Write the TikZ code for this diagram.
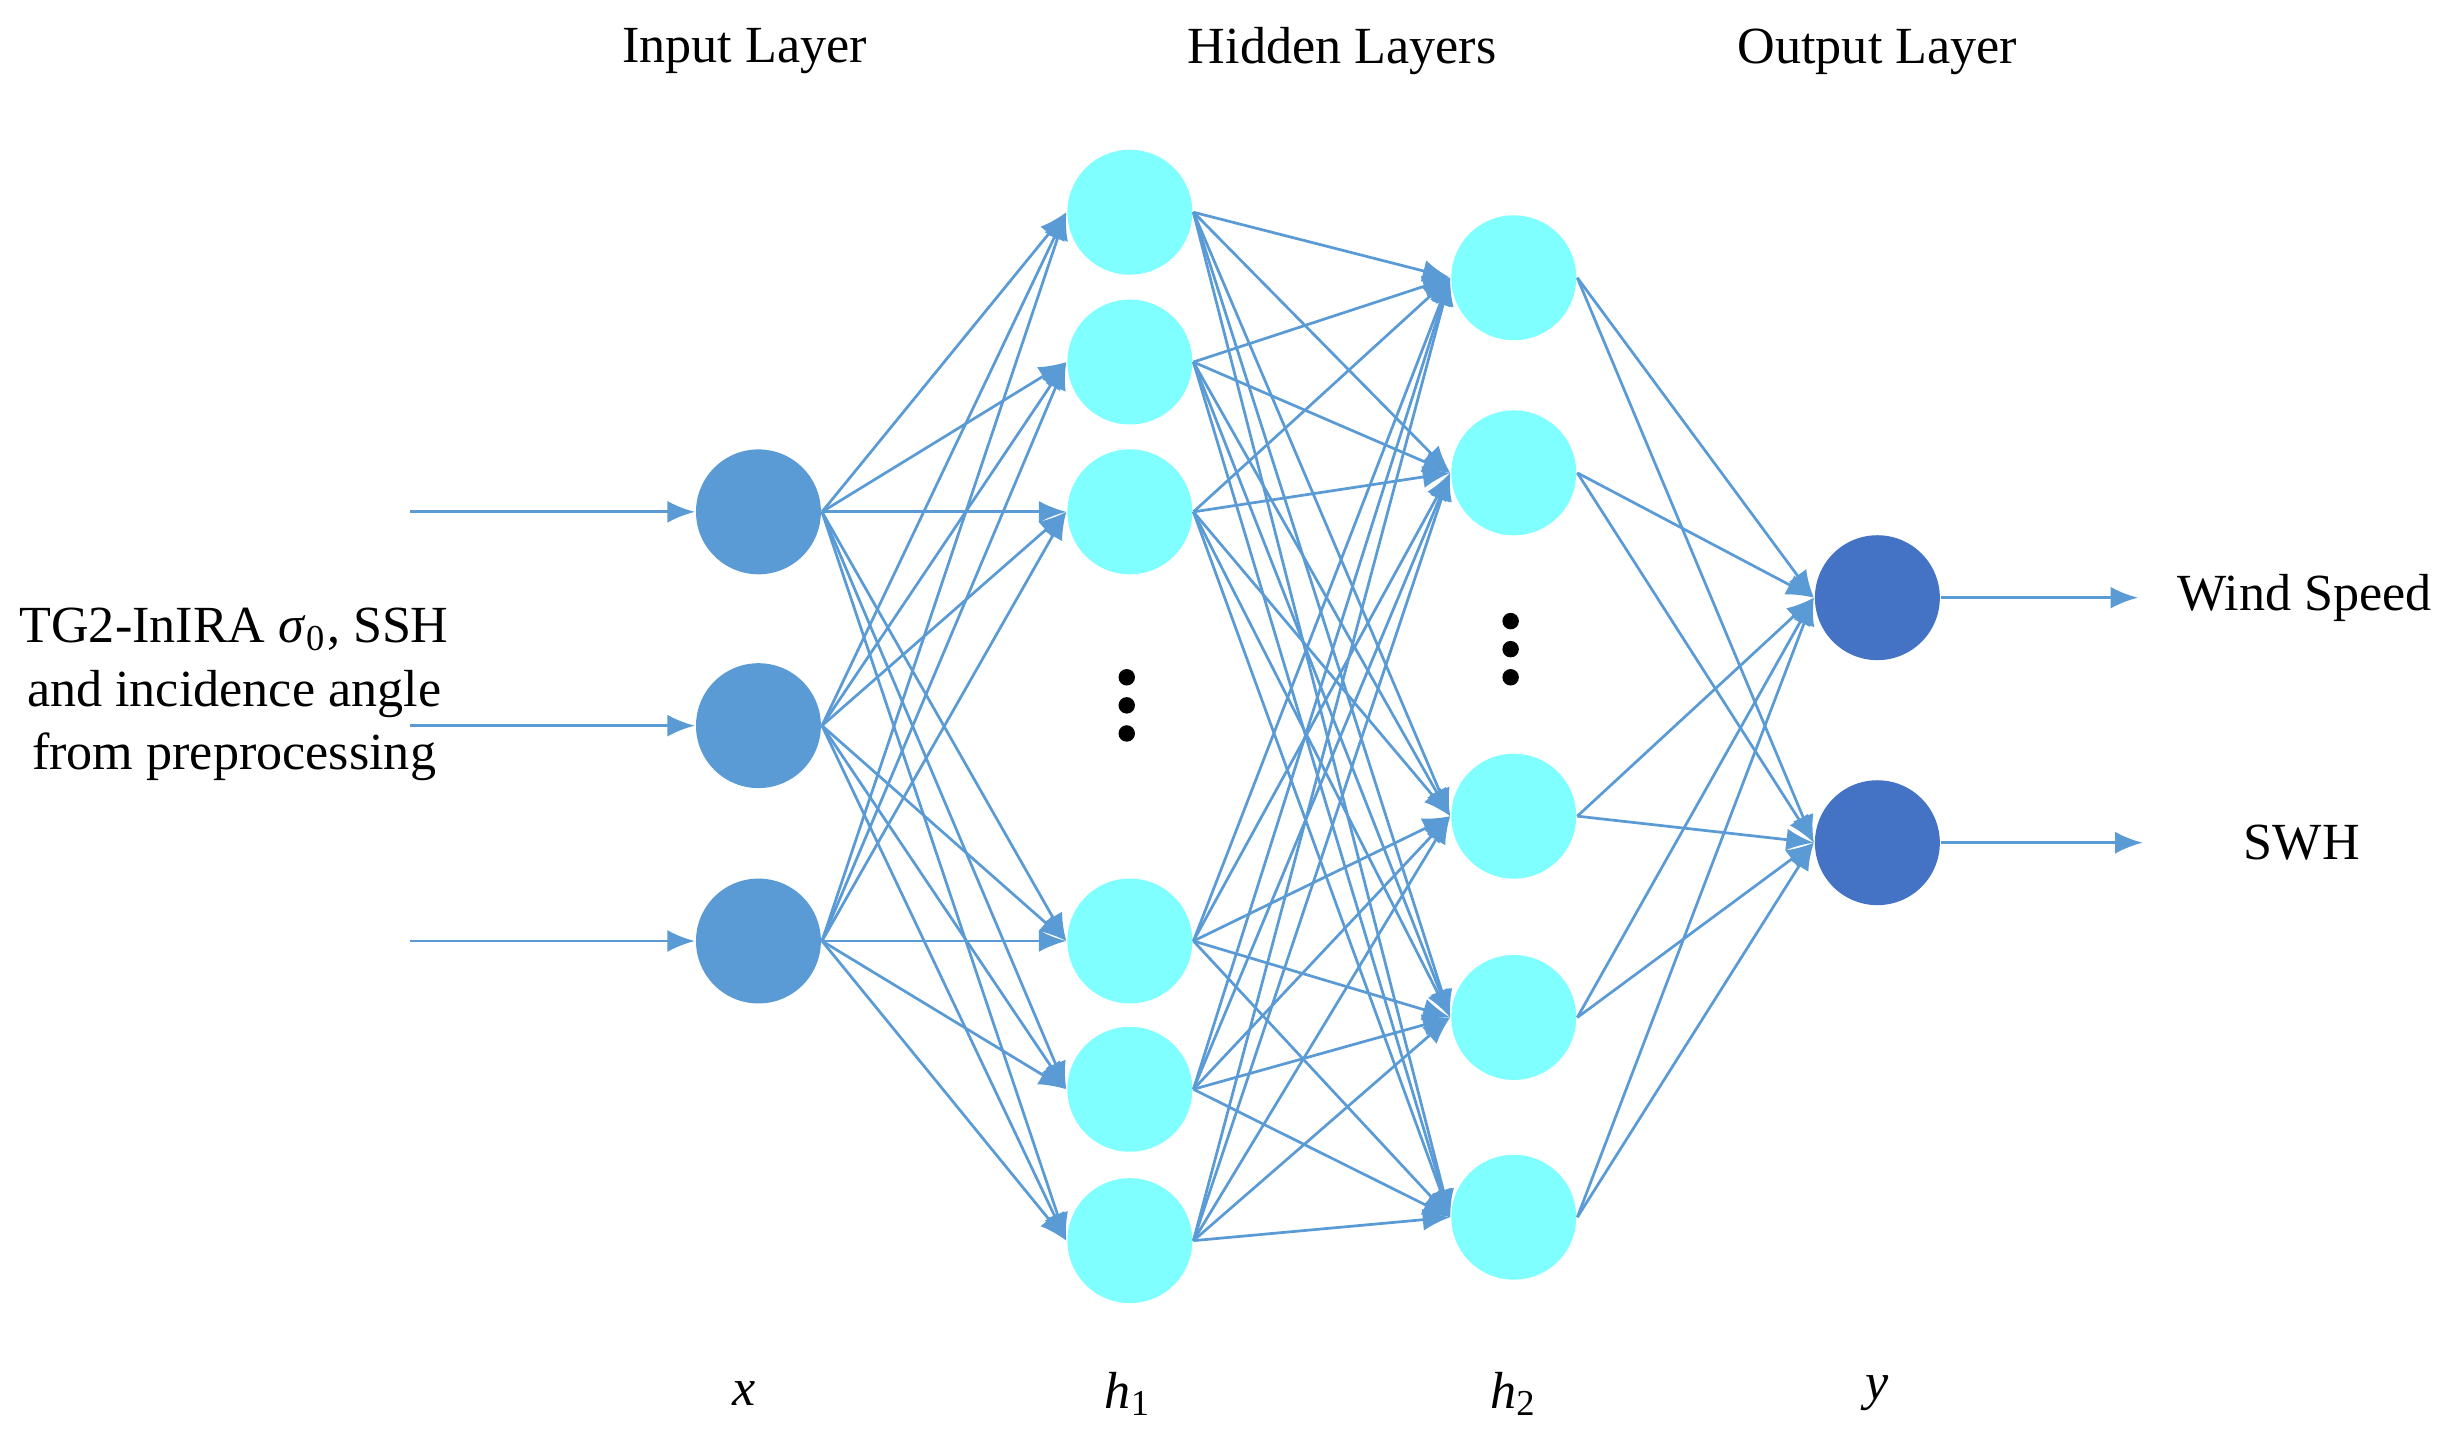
\documentclass[tikz,border=0pt]{standalone}
\usepackage{fontspec}
\setmainfont{Liberation Serif}
\usetikzlibrary{arrows.meta}
\definecolor{inp}{HTML}{5B9BD5}
\definecolor{hid}{HTML}{7FFFFF}
\definecolor{outc}{HTML}{4472C4}
\definecolor{edge}{HTML}{5B9BD5}
\begin{document}
\begin{tikzpicture}[x=0.01cm,y=-0.01cm,
  neuron/.style={circle,minimum size=0.8cm,inner sep=0pt},
  conn/.style={draw=edge,line width=0.5pt,-{Latex[length=5pt,width=4pt]}},
  dot/.style={circle,fill=black,minimum size=3pt,inner sep=0pt},
  lab/.style={font=\fontsize{9.5pt}{11.5pt}\selectfont}]
\useasboundingbox (0,0) rectangle (1568,925);
\foreach \n/\y in {1/328,2/465,3/603}
  \node[neuron,fill=inp] (x\n) at (486,\y) {};
\foreach \n/\y in {1/136,2/232,3/328,4/603,5/698,6/795}
  \node[neuron,fill=hid] (a\n) at (724,\y) {};
\foreach \n/\y in {1/178,2/303,3/523,4/652,5/780}
  \node[neuron,fill=hid] (b\n) at (970,\y) {};
\foreach \n/\y in {1/383,2/540}
  \node[neuron,fill=outc] (o\n) at (1203,\y) {};
\foreach \i in {1,2,3} \foreach \j in {1,...,6} \draw[conn] (x\i.east) -- (a\j.west);
\foreach \i in {1,...,6} \foreach \j in {1,...,5} \draw[conn] (a\i.east) -- (b\j.west);
\foreach \i in {1,...,5} \foreach \j in {1,2} \draw[conn] (b\i.east) -- (o\j.west);
\foreach \n/\y in {1/328,2/465,3/603} {
  \coordinate (s\n) at (263,\y);
  \draw[conn] (s\n) -- (x\n);
}
\coordinate (e1) at (1370,383);
\coordinate (e2) at (1373,540);
\draw[conn] (o1) -- (e1);
\draw[conn] (o2) -- (e2);
\foreach \k/\y in {1/434,2/452,3/470} \node[dot] (p\k) at (722,\y) {};
\foreach \k/\y in {1/398,2/416,3/434} \node[dot] (q\k) at (968,\y) {};
\node[lab] (t1) at (477,33) {Input Layer};
\node[lab] (t2) at (860,33) {Hidden Layers};
\node[lab] (t3) at (1203,33) {Output Layer};
\node[lab,anchor=west] (w) at (1383,383) {Wind Speed};
\node[lab] (sw) at (1475,540) {SWH};
\node[lab,align=center] (l) at (150,445) {TG2-InIRA \textit{σ}\textsubscript{0}, SSH\\and incidence angle\\from preprocessing};
\node[lab] (bx) at (477,893) {\textit{x}};
\node[lab] (bh1) at (723,893) {\textit{h}\textsubscript{1}};
\node[lab] (bh2) at (970,893) {\textit{h}\textsubscript{2}};
\node[lab] (by) at (1203,893) {\textit{y}};
\end{tikzpicture}
\end{document}
